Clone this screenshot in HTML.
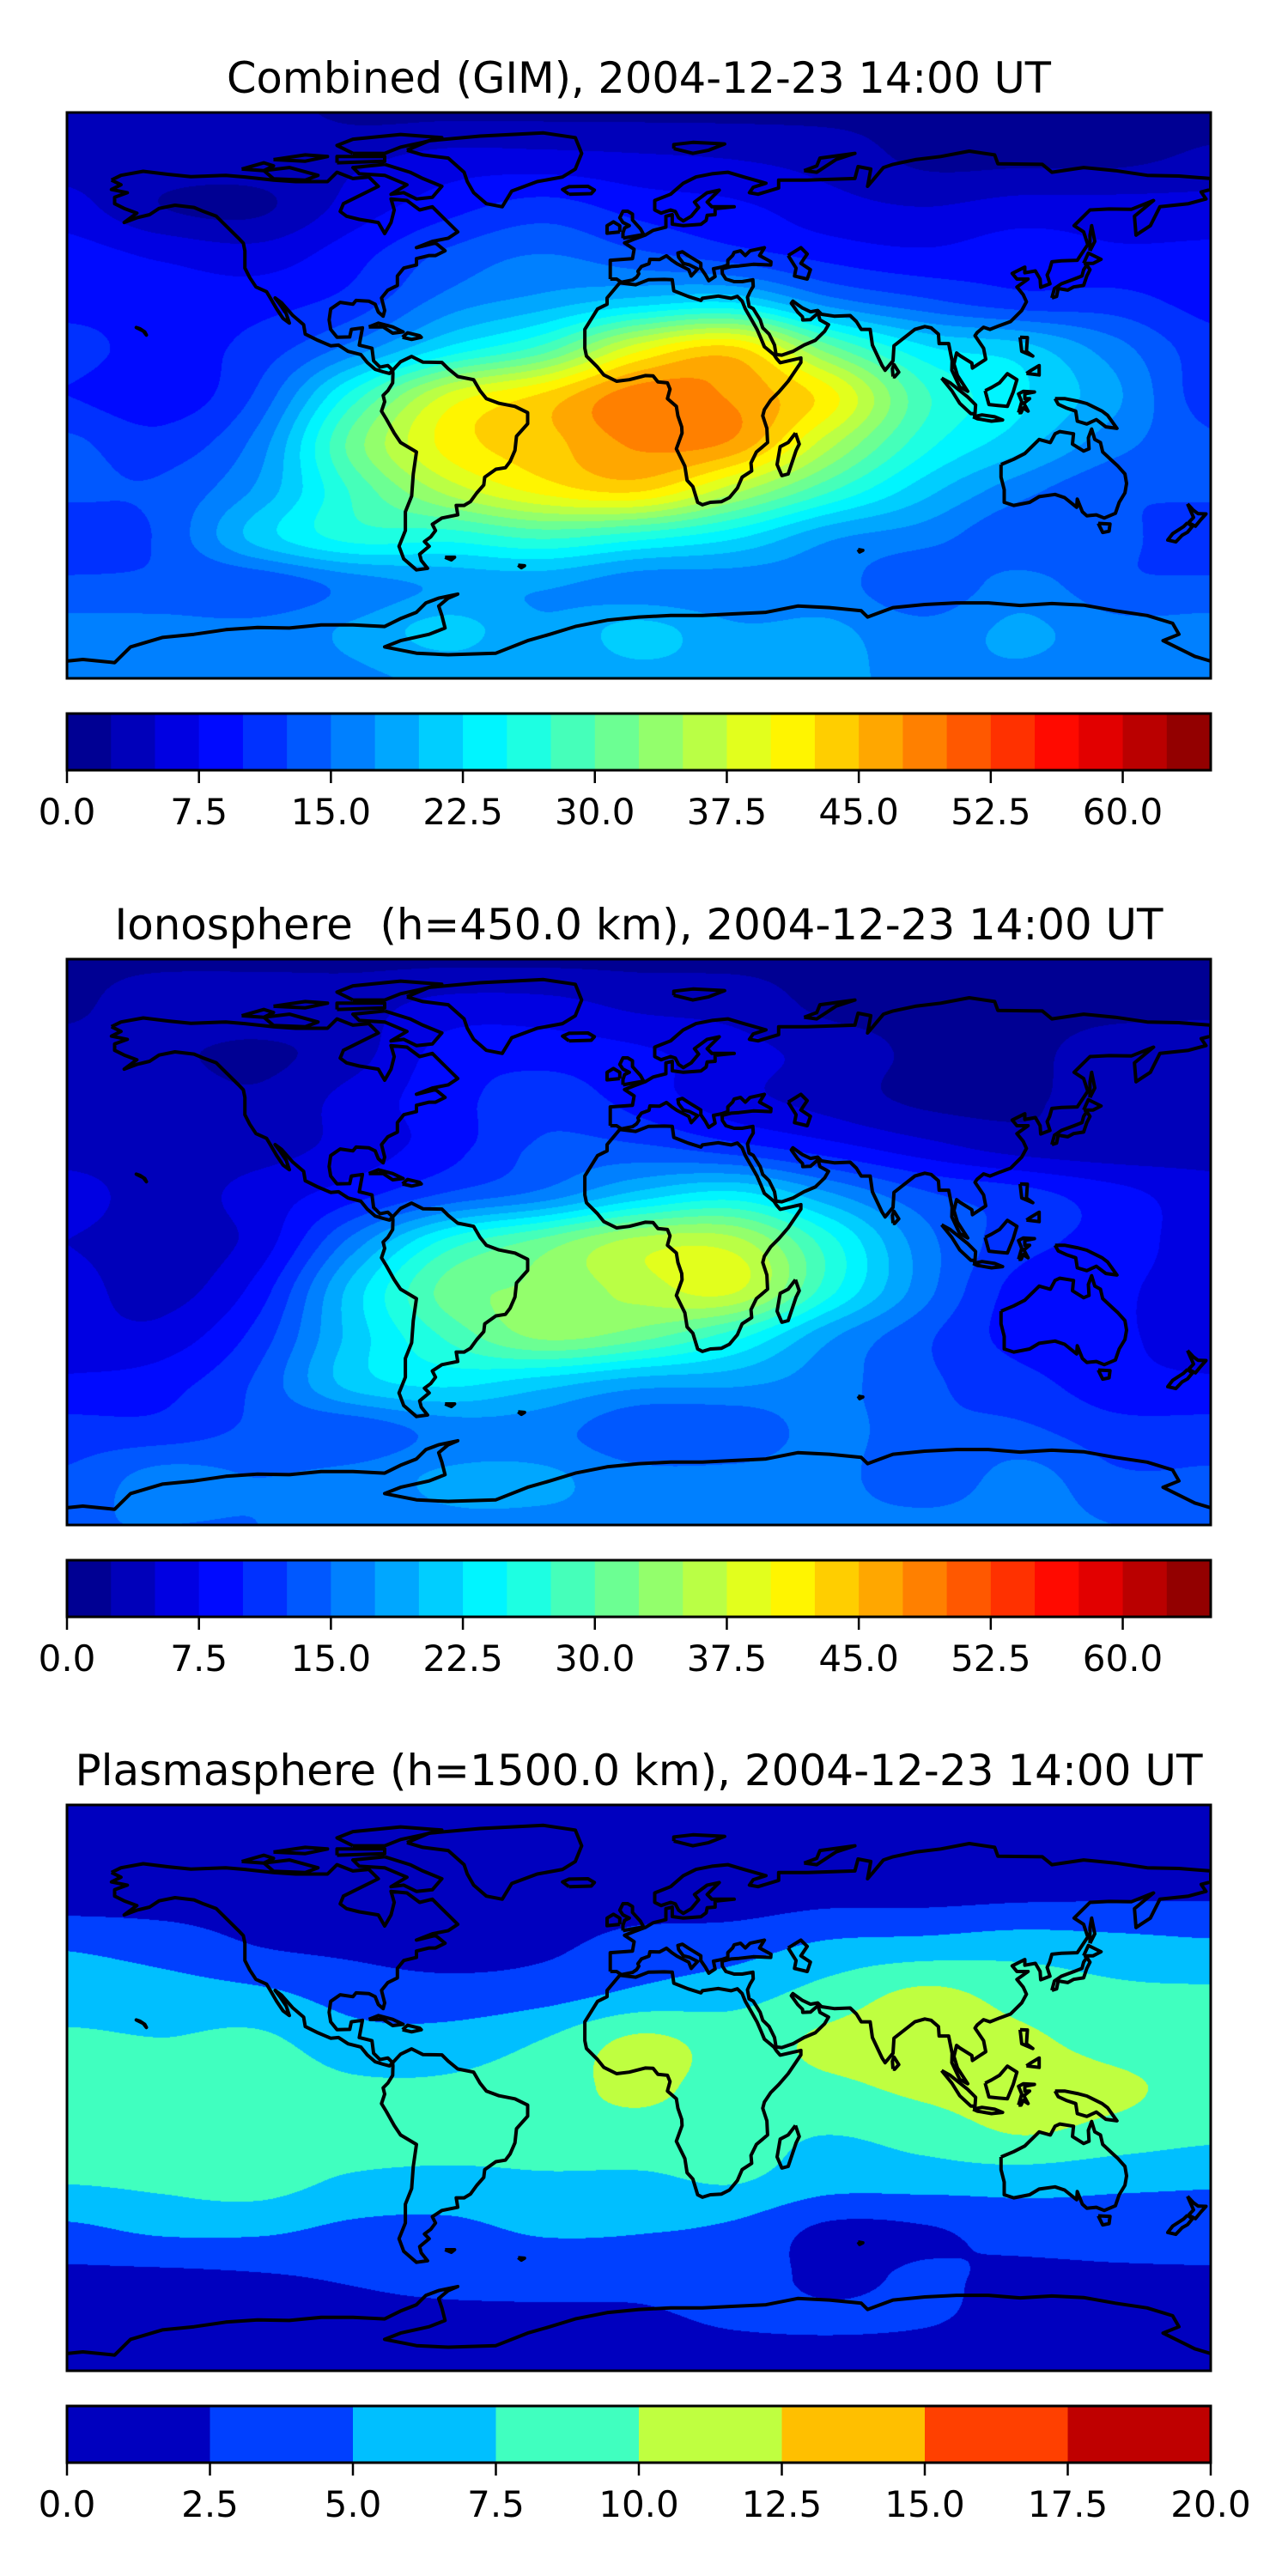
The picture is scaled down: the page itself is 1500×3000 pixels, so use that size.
<!DOCTYPE html>
<html><head><meta charset="utf-8">
<style>
html,body{margin:0;padding:0;background:#fff;width:1500px;height:3000px;overflow:hidden;}
.panel{position:absolute;left:0;width:1500px;height:985px;}
canvas{position:absolute;}
svg{position:absolute;left:0;top:0;}
</style></head>
<body>
<div id="root"></div>
<script>
const lats=[90,75,60,45,30,15,0,-15,-30,-45,-60,-75,-90];
const lons=[-180,-150,-120,-90,-60,-30,0,30,60,90,120,150,180];
const gridCombined=[
[4,4,3.5,2,2,2,2,2,2,2,2,2,2],
[4,4,4,4.5,6,6,5.5,5,4,2,2,2,3],
[6,2.5,2,6,9,11,9,8,6,5,6,6,6],
[8.5,7,6,9,13,15,13,11,9,8,9,8,8],
[9,9,9,11,16,18.5,21,22,16,13,11,11,9],
[11,9,11,16,23,28.5,39,43,31,23,21,16,11],
[10,8.5,13,26,38,43,49,47,41,28,23,18,11],
[13,11,16,31,41,44,48,47,36,26,21,16,13],
[13,13,18,28,36,41,43,36,28,21,16,13,13],
[11,13,21,26,26,28,26,23,18,16,13,13,11],
[13,13,13,16,18,18,16,16,16,13,16,13,13],
[16,16,16,18,21,18,21,18,18,16,18,16,16],
[16,16,16,17,18,18,19,19,18,17,17,16,16]];
const gridIono=[
[2,2,2,2,2,2,2,2,2,2,2,2,2],
[2,4,4,4,6,6,4.5,4,2,2,2,2,2],
[3.5,3,2,4,8.5,9,8,6,4,2,2,3.5,4],
[4,4,3,6,9,11.5,9,6,4,2,2,4,4],
[4,4,4,6,9,13,13,11,8.5,6,4,3.5,4],
[6,4,6,9,13,16,21,23.5,18,13,11,8.5,6],
[5,4,6,16,26,31,36,36,26,16,11,9,6],
[6,4,8.5,21,31,33,36,38,26,16,9,8,6],
[6,6,11,21,28,33,31,26,18,13,9,8,6],
[8,9,13,21,23,21,18.5,18,16,13,11,8.5,8],
[11,11,13,13,16,16,13,13,16,13,13,11,11],
[13,16,15,16,18,18,16,16,16,13,16,13,13],
[15,15,15,16,17,17,17,17,16,16,16,15,15]];
const gridPlasma=[
[1,1,1,1,1,1,1,1,1,1,1,1,1],
[1.5,1.5,1.5,1.5,1.5,1.5,1.5,1.5,1.5,1.5,1.5,1.5,1.5],
[1.5,1.5,1.5,1.5,1.5,1.5,1.5,1.5,2,2,2.3,2.4,2.4],
[4.8,4,2.5,2,1.5,2,3.5,4,5.5,6,6.5,6,5.5],
[6,6,5.5,4,3.5,4,5.5,6.5,8.5,10.5,9,8,7.8],
[8,7.6,8,6,6,7.6,10.5,9,10.5,11,10.5,9,8],
[8.5,9,9,8,8,9,10.5,9,9.5,10.5,11,10.5,9],
[9,9,9,9,9,9,9,8.5,7.5,8.5,10,9,8],
[7.6,8,8.5,7,6.5,7,7,7.6,6,6,6,5.5,5.2],
[4.5,5.5,5.5,4.5,4.5,5.3,5.2,4.5,2,2.3,3.5,4,4.5],
[2,2,2.3,2.8,3.5,3.5,3.3,3.5,2,2.8,2,2,2],
[1.5,1.5,1.5,1.5,1.5,1.8,2,2.7,2.8,2.6,1.8,1.5,1.5],
[1,1,1,1,1,1,1,1,1,1,1,1,1]];
const ticksA=["0.0","7.5","15.0","22.5","30.0","37.5","45.0","52.5","60.0"];
const ticksB=["0.0","2.5","5.0","7.5","10.0","12.5","15.0","17.5","20.0"];
const titles=["Combined (GIM), 2004-12-23 14:00 UT","Ionosphere\u00a0 (h=450.0 km), 2004-12-23 14:00 UT","Plasmasphere (h=1500.0 km), 2004-12-23 14:00 UT"];
const coasts=[
[[-166,68.5],[-163,70],[-156,71.3],[-148,70.3],[-141,69.6],[-130,70],[-124,69.5],[-115,68.5],[-108,68],[-98,68],[-95,71],[-90,69],[-85,69.5],[-82,66.5],[-87,64],[-93,61],[-94,58.5],[-92,57],[-88,56],[-82,55],[-80,51.5],[-78,55],[-77,59],[-78,62.5],[-73,62],[-69,59],[-65,60],[-61,56],[-57,52],[-60,50],[-65,49],[-70,47],[-64,48.5],[-61,46],[-64,44.5],[-66,44.5],[-70,43.5],[-70,41.5],[-74,40.5],[-76,38],[-76,35],[-79,33.5],[-81,31],[-80,27],[-80.5,25.2],[-82,26.5],[-83,29],[-85,30],[-89,30.2],[-90,29],[-94,29.6],[-97,27.5],[-97.5,24],[-97,21],[-95,18.5],[-91,18.6],[-90.5,21],[-87,21.5],[-88,16],[-84,15],[-83.5,11],[-81.5,9],[-79,9.5],[-77.5,8],[-78.5,7],[-80.5,7.5],[-83,8.3],[-85.5,10.5],[-87.5,13],[-91.5,14],[-94.5,16],[-97,15.8],[-101,17.5],[-105,19.5],[-105.5,22.5],[-109,25.5],[-112.5,29.5],[-114.5,31],[-113,29],[-111,26],[-110,23],[-112,24.5],[-114,27.5],[-116,31],[-117.2,33],[-120.5,34.5],[-122.5,37.5],[-124,40.5],[-124,46],[-124.5,48.4],[-126,50],[-130,54],[-133,57],[-137,58.5],[-140,59.8],[-146,60.5],[-151,59.5],[-154,57.5],[-158,56.5],[-162,55],[-158,58],[-162,59.5],[-165,61],[-165,63],[-161,64.5],[-166,65.5],[-163,67],[-166,68.5]],
[[-73,78],[-66,81],[-50,82.5],[-30,83.5],[-20,82],[-18,77],[-20,72],[-24,69.5],[-32,68],[-40,65],[-43,60],[-48,61],[-52,64.5],[-54,68],[-55,71],[-60,75.5],[-68,76.5],[-73,78]],
[[-80,73.5],[-72,71],[-68,69],[-62,66.5],[-65,63],[-70,62.5],[-74,64.5],[-78,64],[-73,67],[-80,70],[-88,70.5],[-90,72.5],[-80,73.5]],
[[-118,71.5],[-110,72.5],[-101,70],[-105,68.5],[-115,68.9],[-118,71.5]],
[[-90,77],[-80,77],[-75,79],[-68,80.5],[-62,82],[-75,83],[-90,81.5],[-95,79.5],[-90,77]],
[[-125,72],[-118,74],[-115,73],[-118,71.5],[-125,72]],
[[-95,74],[-80,74.5],[-80,76],[-95,76],[-95,74]],
[[-115,75],[-105,76.5],[-98,76],[-105,74.5],[-115,75]],
[[-77.5,8],[-75,10.7],[-71.5,12.4],[-68,10.6],[-62,10.5],[-60,8.5],[-57,6],[-52,5],[-50,1.5],[-48,-1],[-44,-2.5],[-39,-3.5],[-35,-5.5],[-35,-9],[-38.5,-13],[-39,-17.5],[-40.5,-21],[-42,-23],[-45,-23.5],[-48.5,-26],[-48.8,-28.5],[-51,-31],[-53,-33.8],[-55,-35],[-57.5,-35],[-57,-38],[-62,-39],[-65,-41],[-64,-43],[-65.5,-45],[-67.5,-46.5],[-66,-48],[-69,-50.5],[-68.5,-52.5],[-66.5,-55],[-70,-55.5],[-74,-52],[-75.5,-48],[-73.5,-43],[-73.5,-37],[-71.5,-32],[-71,-25],[-70,-18],[-75,-15],[-77,-12],[-79.5,-7.5],[-81,-5],[-80,-2],[-80.5,0],[-79,1.5],[-77.5,4],[-77.4,7],[-77.5,8]],
[[-6,35.8],[-10,31],[-10,29],[-13,27.5],[-17,21],[-17,15],[-16.5,12.5],[-13,9],[-11,6.5],[-7,4.5],[-3,5],[2,6.3],[4.5,6.2],[6,4.3],[9,4],[9.8,2],[9,-1],[11.8,-3.5],[12.3,-6.5],[13.5,-10],[13.6,-12],[11.8,-17],[14.5,-22.5],[15.2,-27],[17,-29],[18.5,-34],[20,-34.8],[22.5,-34],[26,-33.8],[28.5,-32.5],[31,-29.5],[32.5,-26],[35.5,-24],[35.3,-21.5],[37,-18],[40.5,-15],[40.3,-10.5],[39,-6.5],[39.5,-4.5],[41.5,-1.5],[44,1],[47,4.5],[51,10.5],[51,11.9],[44.5,10.4],[43.3,11.8],[42.5,13],[39.5,15.5],[38.5,18],[37.2,21],[35.5,24],[33.5,27.5],[32.5,30],[31,31.5],[29,30.9],[25,31.6],[20,30.9],[19.5,30.2],[15.5,31.5],[11,33.3],[10.5,36.8],[8,36.9],[3,36.8],[-1,35.2],[-6,35.8]],
[[49.3,-12],[50.5,-15.5],[49.5,-17.5],[47,-25],[45,-25.5],[43.5,-22],[44.5,-16.3],[47,-15],[49.3,-12]],
[[-9,37],[-9,43],[-2,43.5],[-1.5,46.5],[-4.5,48.5],[-1.5,49.7],[2,51],[4.5,52.5],[8.5,53.5],[8.5,57],[10.5,57.5],[10.5,54.5],[14,54],[19.5,54.4],[21.2,55.7],[21.5,57.3],[24,57.5],[24,59.4],[30,60],[23,60],[21.5,61.5],[25.3,65.3],[21.5,64.5],[17.5,61.5],[18.8,59.8],[16.5,57],[14,55.5],[12.5,56.5],[11.5,58.5],[10,59],[7,58],[5,59],[5,62],[10,64],[14,67.5],[18,69.5],[23,70.5],[28,71],[33,69.5],[40,67.5],[36,66.2],[34.8,64.5],[37.5,64],[44,66],[44,68.5],[53,68.5],[59,68.7],[68,69],[69,72.8],[73,72],[72,66.5],[77,72.5],[80,73.5],[87,75],[95,76],[104,77.7],[112,76.5],[113,73.7],[127,73.5],[130,71],[140,72.5],[150,71.5],[160,70],[170,69.8],[180,69],[180,65.5],[177,64.7],[178.5,62.5],[173,61],[164,60],[163,58],[161,54],[158,52],[156.5,51],[156,57],[162,62],[155,59.2],[148,59.3],[142,59],[137,54],[140,52],[141.3,48],[138,43],[133,42.8],[130,42.5],[129.3,40],[128.5,38.3],[129.4,35.5],[126.5,34.4],[126.3,37],[124.8,39.6],[121.5,39],[121.5,40.8],[117.5,38.8],[119,37],[122.5,37],[119,34.5],[121,32],[122,29.8],[120.5,27],[117,23.5],[113.5,22.2],[110.5,21],[108.5,21.7],[106.5,20],[105.8,19],[108.5,15],[109.2,11.5],[105,8.7],[104.8,10.3],[101,12.7],[100,13.5],[99.2,10],[100.3,6.3],[103.5,1.3],[101,2.7],[98.5,8],[98.6,11],[97.5,16.5],[94.5,16.5],[94.3,19.5],[92,21.5],[90,21.9],[86.9,21],[85,19.5],[80.3,15.8],[80,11],[77.5,8],[76.5,9.6],[73.5,16],[72.8,21],[70,21],[68.5,23.5],[66.5,25.4],[61.5,25.2],[57.5,25.8],[56.3,27],[54,26.6],[51.5,27.8],[48.5,30],[48,29.3],[50,26.5],[51.5,25],[51.6,24],[54,24.1],[56.4,26.2],[57,24],[59.7,22.5],[58.5,20.4],[55.5,17.5],[52,16],[48.5,14],[45,12.8],[43.2,13],[42.7,16],[41,19.5],[39,21.5],[38.2,24],[36,27.6],[34.7,28.3],[34.2,31.2],[35,33],[36,34.7],[35.9,36.8],[32.5,36.2],[30,36.2],[27.4,37],[26.3,38.7],[26.2,40.3],[29,41],[31.5,41.2],[36,41.7],[41.5,41.5],[41.6,42.5],[38,44.5],[39.5,47],[35,46],[33.5,44.5],[32,46],[30,45.5],[29.5,44.5],[28,43],[28,41.5],[26,40.8],[23.5,40.3],[24,37.8],[22,36.5],[21,38.3],[19.5,40.5],[19.5,42],[15.5,44.5],[13.7,45.7],[12.3,45.3],[12.5,44],[14,42],[16,41.5],[18.5,40.2],[16.5,38],[15.7,40],[12,41.9],[10.5,42.9],[8.7,44.4],[6.5,43.2],[3.5,43.3],[3.2,41.9],[0.8,41],[-0.3,39.5],[0,38.7],[-0.7,37.6],[-2,36.7],[-5.5,36],[-7,37],[-9,37]],
[[47,44.5],[51,47],[53,45],[51,42],[54,40],[53,37],[49,38],[49.5,40.5],[47,44.5]],
[[-5,50],[1.5,51.2],[0.5,53],[-2,55.8],[-2,57.7],[-3.5,58.6],[-5,58.6],[-6,56.5],[-5,55],[-3,54],[-4.5,53.3],[-5,51.7],[-5,50]],
[[-6,52],[-6,54],[-8,55.2],[-10,54],[-10,51.6],[-6,52]],
[[-22,64],[-24,65.5],[-22,66.4],[-16,66.5],[-14,65.3],[-15,64.2],[-22,64]],
[[52,71.5],[56,73],[57,75.5],[68,77],[62,75],[56,71],[52,71.5]],
[[11,78.5],[17,77],[22,78],[27,80],[17,80.5],[11,79.8],[11,78.5]],
[[130,31],[131.5,31.5],[132,34],[135,33.5],[136.8,34.5],[140,35],[141,38],[142,40],[141,41.5],[140,40],[139.5,38],[137,37],[133,35.5],[130.8,34],[130,31]],
[[140,42],[141.5,45.3],[145.5,43.3],[143,42],[140,42]],
[[142,46],[143.5,49],[142.5,54],[142,51],[142,46]],
[[120,18.5],[122.3,18.4],[122,14],[124,12.5],[120.5,14],[120,18.5]],
[[122,7],[126,6.5],[126,9.5],[123.5,8],[122,7]],
[[109,1.5],[111,2.5],[113.5,4],[116,6.9],[119,5],[117.8,1],[116,-3.5],[113,-3.2],[110.2,-2.9],[109,1.5]],
[[95.3,5.5],[98,4],[103.5,-0.5],[106,-3],[105.8,-5.8],[104.5,-5.8],[101,-2.5],[98.5,1.5],[95.3,5.5]],
[[105.2,-6.8],[108,-6.2],[112,-6.8],[114.5,-7.8],[111,-8.2],[106.5,-7.4],[105.2,-6.8]],
[[119.5,-5.5],[120.5,-2],[119.5,0.5],[121,1.3],[124.5,1.1],[121.5,0.5],[121.5,-1],[123,-1],[121.2,-2.5],[122.5,-5],[121,-4],[120.3,-5.5],[119.5,-5.5]],
[[131,-1],[134,-1],[138,-1.8],[141,-2.6],[145.8,-5],[147.5,-6.3],[150.5,-10.5],[147,-10],[144,-7.7],[141,-9.1],[138,-8.2],[137.5,-5],[134.5,-4],[132,-2.8],[131,-1]],
[[114,-22],[114,-26],[115,-30],[115,-34],[118,-35],[123,-34],[126,-32.2],[131,-31.5],[134,-32.5],[137.8,-35.6],[138,-33],[139.6,-37],[141,-38.3],[144,-38],[146.5,-39],[150,-37.5],[151.2,-34],[153,-31],[153.5,-28],[153,-25],[150.8,-22.5],[149.2,-21],[146,-18],[145.3,-15],[143.5,-14],[142.5,-10.7],[141.5,-13.5],[141.7,-17],[140,-17.7],[136.5,-15.5],[136.8,-12.2],[132.5,-11.5],[131,-12.2],[129.5,-15],[126,-14],[123,-17],[121.5,-18.5],[118,-20.3],[114,-22]],
[[144.6,-40.7],[148.3,-40.9],[148,-43.2],[146,-43.6],[144.6,-40.7]],
[[172.7,-34.5],[174.5,-36.5],[176,-37.6],[178.5,-37.7],[176.9,-39.5],[175.2,-41.6],[173,-40.5],[174.6,-38.8],[172.7,-34.5]],
[[172.7,-40.5],[174.2,-41.7],[172.7,-43.5],[171,-44.5],[169,-46.6],[166.5,-46],[168,-44],[171.5,-41.7],[172.7,-40.5]],
[[-180,-84.5],[-175,-84],[-165,-85],[-160,-80],[-150,-77],[-140,-76],[-130,-74.5],[-120,-73.8],[-110,-74],[-100,-73],[-90,-73],[-80,-73.5],[-75,-71],[-70,-69],[-67,-66],[-63,-64.5],[-57,-63.2],[-60,-64.5],[-63,-67],[-62,-70],[-61,-74],[-66,-76],[-75,-78],[-80,-80],[-70,-82],[-60,-82.5],[-45,-82],[-35,-78],[-28,-76],[-20,-73.5],[-10,-71.5],[0,-70.5],[10,-70],[20,-70],[30,-69.5],[40,-69],[50,-67],[60,-67.5],[70,-68.5],[72,-70.5],[80,-67.5],[90,-66.5],[100,-66],[110,-66],[120,-66.8],[130,-66.2],[140,-66.7],[150,-68.5],[160,-70],[168,-72.5],[170,-76],[165,-78],[175,-83],[180,-84.5]],
[[-85,21.8],[-82,23],[-77.5,21.8],[-74.2,20.2],[-77.5,19.8],[-80.5,21.8],[-85,21.8]],
[[-74.4,18.5],[-72.8,19.9],[-69,19],[-68.5,18.5],[-71.5,17.8],[-74.4,18.5]],
[[80,6],[79.8,8.5],[80.3,9.8],[81.8,7.4],[80.5,5.9],[80,6]],
[[-156,20.5],[-155,19.2],[-155.5,20.2],[-157,21.2],[-158.2,21.6],[-156,20.5]],
[[-61,-51.5],[-58,-51.5],[-59,-52.3],[-61,-51.5]],
[[-38,-54],[-36,-54.2],[-37,-54.8],[-38,-54]],
[[69,-49],[70.5,-49.3],[69.5,-49.8],[69,-49]]
];
const MX=78, MW=1332, MH=659, MAPTOP=131, CBTOP=831, CBH=66, OFF=[0,985.5,1971];
const titleLens=[960,1221,1313];
const configs=[{grid:gridCombined,n:26,vmax:65,ticks:ticksA,name:'combined'},
{grid:gridIono,n:26,vmax:65,ticks:ticksA,name:'ionosphere'},
{grid:gridPlasma,n:8,vmax:20,ticks:ticksB,name:'plasmasphere'}];
function clamp(v){return Math.max(0,Math.min(1,v));}
function jet(t){return [clamp(Math.min(4*t-1.5,-4*t+4.5)),clamp(Math.min(4*t-0.5,-4*t+3.5)),clamp(Math.min(4*t+0.5,-4*t+2.5))].map(v=>Math.round(v*255));}
function cr(p0,p1,p2,p3,t){return 0.5*((2*p1)+(-p0+p2)*t+(2*p0-5*p1+4*p2-p3)*t*t+(-p0+3*p1-3*p2+p3)*t*t*t);}
function sample(g,r,c){r=Math.max(0,Math.min(12,r));c=Math.max(0,Math.min(12,c));return g[r][c];}
function field(g,lat,lon){
  const fr=(90-lat)/15, fc=(lon+180)/30;
  const r=Math.min(11,Math.floor(fr)), c=Math.min(11,Math.floor(fc));
  const tr=fr-r, tc=fc-c; const rows=[];
  for(let i=-1;i<=2;i++){rows.push(cr(sample(g,r+i,c-1),sample(g,r+i,c),sample(g,r+i,c+1),sample(g,r+i,c+2),tc));}
  return cr(rows[0],rows[1],rows[2],rows[3],tr);
}
const xOf=lon=>MX+(lon+180)/360*MW;
const yOf=lat=>MAPTOP+(90-lat)/180*MH;
const NS='http://www.w3.org/2000/svg';
const root=document.getElementById('root');
configs.forEach((cfg,p)=>{
  const panel=document.createElement('div');
  panel.className='panel';
  panel.style.top=OFF[p]+'px';
  
  
  root.appendChild(panel);
  const pal=[];for(let i=0;i<cfg.n;i++)pal.push(jet((i+0.5)/cfg.n));
  const step=cfg.vmax/cfg.n;
  const cv=document.createElement('canvas');
  cv.width=MW;cv.height=MH;cv.style.left=MX+'px';cv.style.top=MAPTOP+'px';
  
  
  panel.appendChild(cv);
  const ctx=cv.getContext('2d');const img=ctx.createImageData(MW,MH);const d=img.data;
  for(let y=0;y<MH;y++){const lat=90-(y+0.5)/MH*180;
    for(let x=0;x<MW;x++){const lon=-180+(x+0.5)/MW*360;
      let v=field(cfg.grid,lat,lon);let k=Math.floor(v/step);k=Math.max(0,Math.min(cfg.n-1,k));
      const c=pal[k],o=(y*MW+x)*4;d[o]=c[0];d[o+1]=c[1];d[o+2]=c[2];d[o+3]=255;}}
  ctx.putImageData(img,0,0);
  const svg=document.createElementNS(NS,'svg');
  svg.setAttribute('width','1500');svg.setAttribute('height','985');
  panel.appendChild(svg);
  const defs=document.createElementNS(NS,'defs');
  const cp=document.createElementNS(NS,'clipPath');cp.setAttribute('id','clip'+p);
  const cr_=document.createElementNS(NS,'rect');cr_.setAttribute('x',MX);cr_.setAttribute('y',MAPTOP);cr_.setAttribute('width',MW);cr_.setAttribute('height',MH);
  cp.appendChild(cr_);defs.appendChild(cp);svg.appendChild(defs);
  const title=document.createElementNS(NS,'text');
  title.setAttribute('x',MX+MW/2);title.setAttribute('y',108);title.setAttribute('text-anchor','middle');
  title.setAttribute('font-family','DejaVu Sans, Liberation Sans, sans-serif');title.setAttribute('font-size','50');
  title.setAttribute('textLength',titleLens[p]);title.setAttribute('lengthAdjust','spacingAndGlyphs');
  title.setAttribute('xml:space','preserve');
  title.textContent=titles[p];
  
  
  svg.appendChild(title);
  const cg=document.createElementNS(NS,'g');cg.setAttribute('clip-path','url(#clip'+p+')');
  
  
  coasts.forEach(line=>{const pl=document.createElementNS(NS,'polyline');
    pl.setAttribute('points',line.map(q=>xOf(q[0]).toFixed(1)+','+yOf(q[1]).toFixed(1)).join(' '));
    pl.setAttribute('fill','none');pl.setAttribute('stroke','#000');pl.setAttribute('stroke-width','4');pl.setAttribute('stroke-linejoin','round');
    
    
    cg.appendChild(pl);});
  svg.appendChild(cg);
  const fr=document.createElementNS(NS,'rect');
  fr.setAttribute('x',MX);fr.setAttribute('y',MAPTOP);fr.setAttribute('width',MW);fr.setAttribute('height',MH);
  fr.setAttribute('fill','none');fr.setAttribute('stroke','#000');fr.setAttribute('stroke-width','3');
  
  
  svg.appendChild(fr);
  const bw=MW/cfg.n;
  for(let i=0;i<cfg.n;i++){const r=document.createElementNS(NS,'rect');
    r.setAttribute('x',MX+i*bw);r.setAttribute('y',CBTOP);r.setAttribute('width',bw+0.6);r.setAttribute('height',CBH);
    r.setAttribute('fill','rgb('+pal[i].join(',')+')');
    
    
    svg.appendChild(r);}
  const cb=document.createElementNS(NS,'rect');
  cb.setAttribute('x',MX);cb.setAttribute('y',CBTOP);cb.setAttribute('width',MW);cb.setAttribute('height',CBH);
  cb.setAttribute('fill','none');cb.setAttribute('stroke','#000');cb.setAttribute('stroke-width','3');
  
  
  svg.appendChild(cb);
  cfg.ticks.forEach(t=>{const v=parseFloat(t);const x=MX+v/cfg.vmax*MW;
    const tk=document.createElementNS(NS,'line');tk.setAttribute('x1',x);tk.setAttribute('x2',x);tk.setAttribute('y1',CBTOP+CBH);tk.setAttribute('y2',CBTOP+CBH+15);
    tk.setAttribute('stroke','#000');tk.setAttribute('stroke-width','2.5');
    
    
    svg.appendChild(tk);
    const lb=document.createElementNS(NS,'text');lb.setAttribute('x',x);lb.setAttribute('y',960);lb.setAttribute('text-anchor','middle');
    lb.setAttribute('font-family','DejaVu Sans, Liberation Sans, sans-serif');lb.setAttribute('font-size','42');lb.textContent=t;
    
    
    svg.appendChild(lb);});
});
</script>
</body></html>
